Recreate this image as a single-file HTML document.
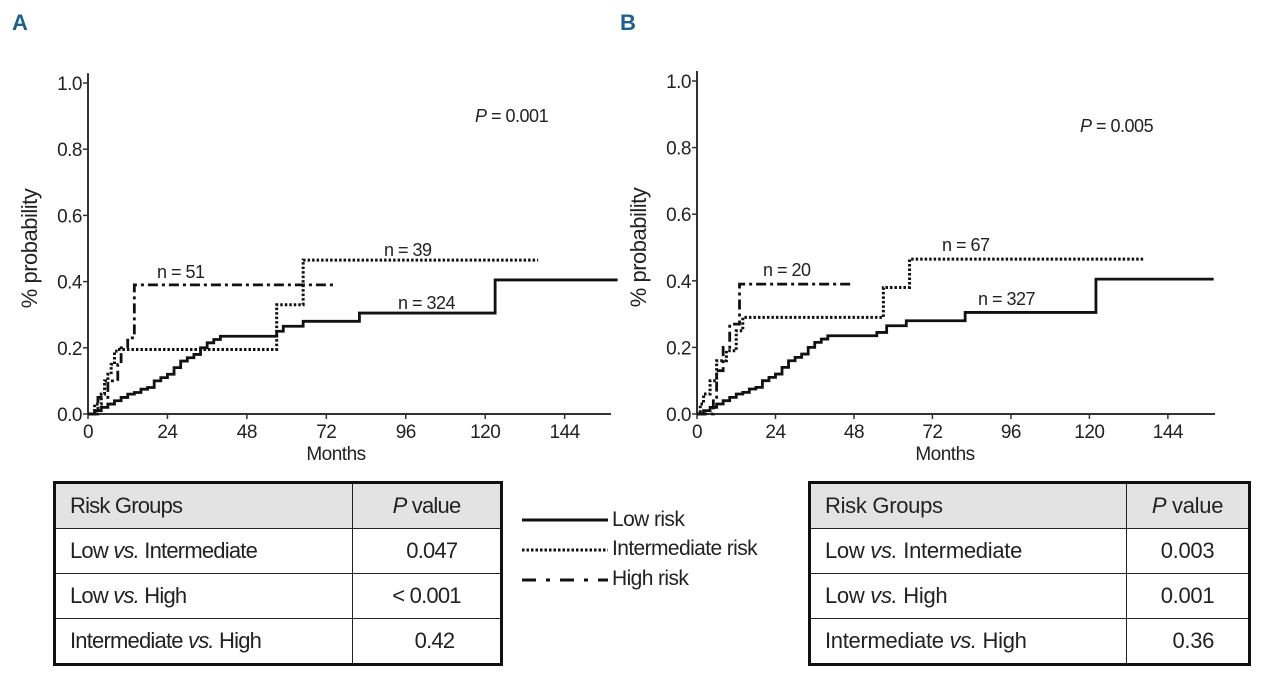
<!DOCTYPE html>
<html><head><meta charset="utf-8"><style>
body{margin:0;background:#fff;width:1280px;height:684px;overflow:hidden;position:relative;font-family:"Liberation Sans Narrow","Liberation Sans",sans-serif}
svg{position:absolute;left:0;top:0}
.tbl{position:absolute;border:3px solid #111;border-collapse:collapse;color:#222}
.tbl td{border:1.5px solid #222;padding:0 0 0 14px;font-size:22px;height:44px;letter-spacing:-0.8px}
.tbl tr.h td{background:#e3e3e3}
.tbl td.v{text-align:center;padding:0}
.lg{position:absolute;font-size:21px;color:#222;letter-spacing:-0.6px}
</style></head><body>
<svg id="chart" width="1280" height="684"></svg>

<table class="tbl" style="left:53px;top:481px;width:450px">
<tr class="h"><td style="width:282px">Risk Groups</td><td class="v"><i>P</i> value</td></tr>
<tr><td>Low <i>vs.</i> Intermediate</td><td class="v">&nbsp;&nbsp;0.047</td></tr>
<tr><td>Low <i>vs.</i> High</td><td class="v">&lt; 0.001</td></tr>
<tr><td>Intermediate <i>vs.</i> High</td><td class="v">&nbsp;&nbsp;&nbsp;0.42</td></tr>
</table>

<table class="tbl" style="left:808px;top:481px;width:443px">
<tr class="h"><td style="width:301px;letter-spacing:-0.3px">Risk Groups</td><td class="v" style="letter-spacing:-0.3px"><i>P</i> value</td></tr>
<tr><td style="letter-spacing:-0.3px">Low <i>vs.</i> Intermediate</td><td class="v" style="letter-spacing:-0.3px">0.003</td></tr>
<tr><td style="letter-spacing:-0.3px">Low <i>vs.</i> High</td><td class="v" style="letter-spacing:-0.3px">0.001</td></tr>
<tr><td style="letter-spacing:-0.3px">Intermediate <i>vs.</i> High</td><td class="v" style="letter-spacing:-0.3px">&nbsp;&nbsp;0.36</td></tr>
</table>

<div class="lg" style="left:612px;top:508px">Low risk</div>
<div class="lg" style="left:612px;top:537px">Intermediate risk</div>
<div class="lg" style="left:612px;top:567px">High risk</div>

<script>
// Panel A data
const lowTimesA=[0,2,4,6,8,10,12,14,16,18,20,22,24,26,28,30,32,34,36,38,40,57,59,65,82,123];
const lowValsA=[0,0.01,0.02,0.03,0.04,0.05,0.06,0.065,0.075,0.08,0.10,0.11,0.12,0.14,0.16,0.17,0.18,0.2,0.215,0.225,0.235,0.25,0.265,0.28,0.305,0.405];
const lowEndA=160;
const intTimesA=[0,2,4,5,6,7,8,9,57,65];
const intValsA=[0,0.03,0.06,0.1,0.12,0.15,0.19,0.195,0.33,0.465];
const intEndA=136;
const highTimesA=[0,3,6,9,10,12,14];
const highValsA=[0,0.05,0.1,0.15,0.2,0.23,0.39];
const highEndA=75;
// Panel B data
const lowTimesB=[0,2,4,6,8,10,12,14,16,18,20,22,24,26,28,30,32,34,36,38,40,55,58,64,82,122];
const lowValsB=[0,0.01,0.02,0.03,0.04,0.05,0.06,0.065,0.075,0.08,0.10,0.11,0.12,0.14,0.16,0.17,0.18,0.2,0.215,0.225,0.235,0.245,0.265,0.28,0.305,0.405];
const lowEndB=158;
const intTimesB=[0,1,2,4,6,9,12,14,57,65];
const intValsB=[0,0.03,0.06,0.1,0.16,0.19,0.25,0.29,0.38,0.465];
const intEndB=137;
const highTimesB=[0,5,6,8,10,13];
const highValsB=[0,0.05,0.13,0.2,0.27,0.39];
const highEndB=48;
const xTicks=[0,24,48,72,96,120,144];
const yTicks=[0,0.2,0.4,0.6,0.8,1.0];

const NS="http://www.w3.org/2000/svg";
const svg=document.getElementById('chart');
function mk(tag,attrs,parent){const e=document.createElementNS(NS,tag);for(const k in attrs)e.setAttribute(k,attrs[k]);(parent||svg).appendChild(e);return e;}
function txt(x,y,s,size,anchor,name,parent,extra){const t=mk('text',Object.assign({x:x,y:y,'font-size':size,'text-anchor':anchor||'start',fill:'#222','letter-spacing':-0.5,'font-family':'Liberation Sans Narrow, Liberation Sans, sans-serif'},extra||{}),parent);t.textContent=s;


return t;}

function panel(p){
  const g=mk('g',{});
  
  
  const X=m=>p.x0+m*p.kx, Y=v=>p.y0-v*p.ky;
  const ax=mk('path',{d:`M${p.x0},${Y(1.03)}V${p.y0}H${p.xEnd}`,stroke:'#333','stroke-width':2,fill:'none'},g);
  
  
  yTicks.forEach(v=>{mk('line',{x1:p.x0-5,x2:p.x0,y1:Y(v),y2:Y(v),stroke:'#333','stroke-width':1.5},g);
    txt(p.x0-6,Y(v)+7,v.toFixed(1),19,'end','y-tick-label',g);});
  xTicks.forEach(m=>{mk('line',{x1:X(m),x2:X(m),y1:p.y0,y2:p.y0+5,stroke:'#333','stroke-width':1.5},g);
    txt(X(m),p.y0+24,String(m),19,'middle','x-tick-label',g);});
  txt(p.x0+248,p.y0+46,'Months',19,'middle','x-axis-title',g);
  txt(0,0,'% probability',22,'middle','y-axis-title',g,{transform:`translate(${p.x0-51},${Y(0.5)}) rotate(-90)`});
  function step(ts,vs,end,style,name){
    let d=`M${X(ts[0])},${Y(vs[0])}`;
    for(let i=1;i<ts.length;i++){d+=`H${X(ts[i])}V${Y(vs[i])}`;}
    d+=`H${X(end)}`;
    const e=mk('path',Object.assign({d:d,fill:'none',stroke:'#111'},style),g);
    
    
  }
  step(p.lowT,p.lowV,p.lowE,{'stroke-width':2.8},'low-risk-curve');
  step(p.intT,p.intV,p.intE,{'stroke-width':3,'stroke-dasharray':'2.5,2'},'intermediate-risk-curve');
  step(p.highT,p.highV,p.highE,{'stroke-width':2.8,'stroke-dasharray':'10,4,3,4'},'high-risk-curve');
  p.labels.forEach(l=>txt(l[0],l[1],l[2],18,'start','n-label',g));
  const pt=txt(p.px,p.py,'',18,'start','p-value-annotation',g);
  pt.innerHTML='<tspan font-style="italic">P</tspan> = '+p.pv;
  txt(p.hx,30,p.id.toUpperCase(),22,'start','panel-label-'+p.id,g,{fill:'#1f5f8b','font-weight':'bold'});
}
panel({id:'a',x0:88,y0:414,kx:3.31,ky:331,xEnd:611,lowT:lowTimesA,lowV:lowValsA,lowE:lowEndA,intT:intTimesA,intV:intValsA,intE:intEndA,highT:highTimesA,highV:highValsA,highE:highEndA,
 labels:[[157,278,'n = 51'],[384,256,'n = 39'],[398,309,'n = 324']],px:475,py:122,pv:'0.001',hx:12});
panel({id:'b',x0:697,y0:414,kx:3.27,ky:333,xEnd:1215,lowT:lowTimesB,lowV:lowValsB,lowE:lowEndB,intT:intTimesB,intV:intValsB,intE:intEndB,highT:highTimesB,highV:highValsB,highE:highEndB,
 labels:[[763,276,'n = 20'],[942,251,'n = 67'],[978,305,'n = 327']],px:1080,py:132,pv:'0.005',hx:620});
const l1=mk('line',{x1:522,x2:608,y1:520,y2:520,stroke:'#111','stroke-width':3});


const l2=mk('line',{x1:522,x2:608,y1:550,y2:550,stroke:'#111','stroke-width':3,'stroke-dasharray':'2.5,2'});


const l3=mk('line',{x1:522,x2:608,y1:580,y2:580,stroke:'#111','stroke-width':3,'stroke-dasharray':'14,10,4,10'});


</script>
</body></html>
